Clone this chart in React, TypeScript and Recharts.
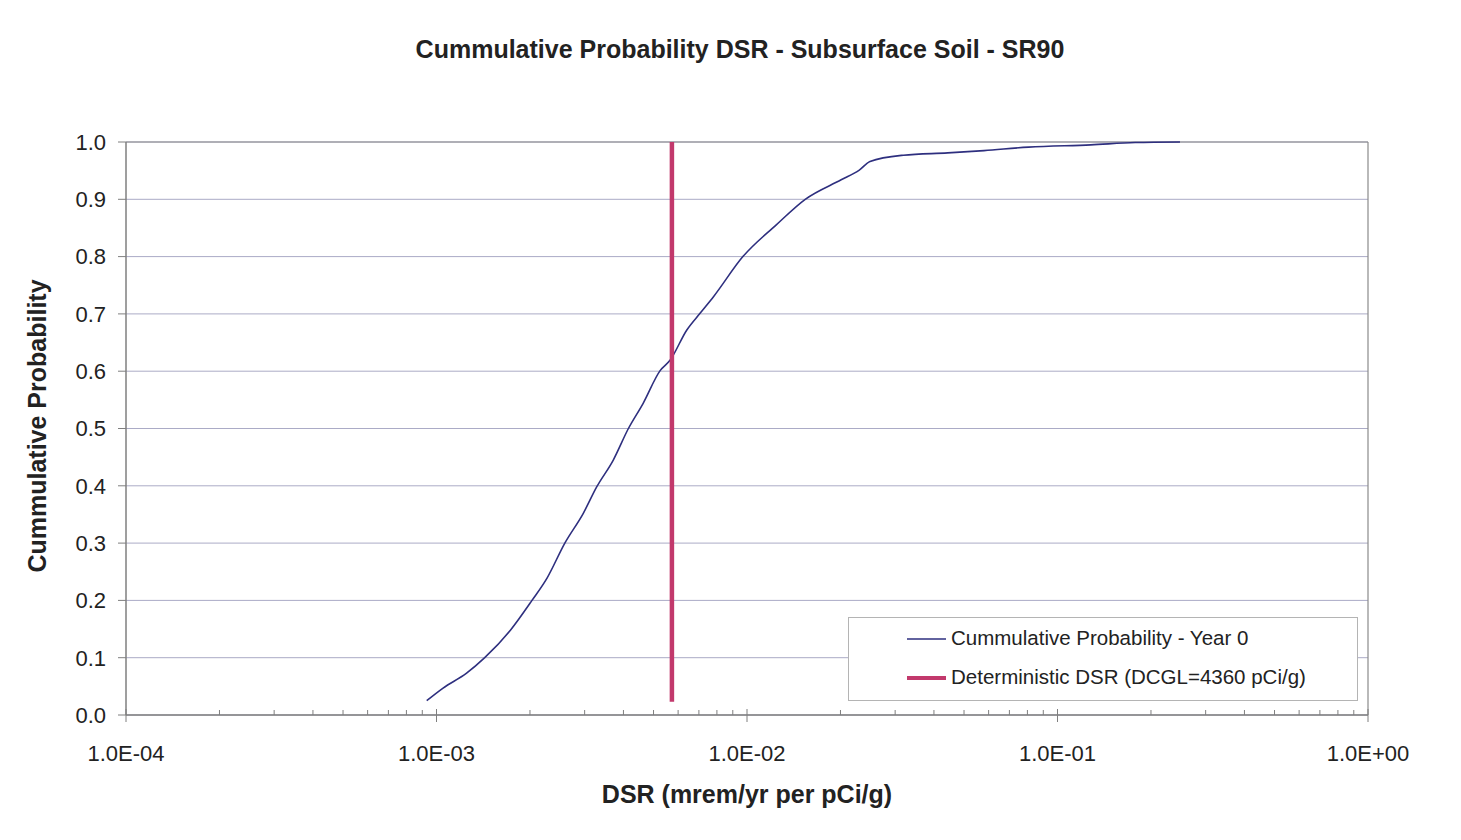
import React from 'react';
import { ComposedChart, Line, XAxis, YAxis, CartesianGrid, ReferenceLine } from 'recharts';

// Cumulative probability curve (Year 0)
const dsrValues = [
  9.3e-4, 1.05e-3, 1.25e-3, 1.43e-3, 1.73e-3, 2.03e-3, 2.27e-3, 2.59e-3, 2.97e-3, 3.28e-3,
  3.71e-3, 4.15e-3, 4.63e-3, 5.25e-3, 5.65e-3, 6.4e-3, 7.06e-3, 7.8e-3, 9.7e-3, 1.24e-2,
  1.54e-2, 2.01e-2, 2.3e-2, 2.49e-2, 3.19e-2, 4.43e-2, 5.8e-2, 8.07e-2, 0.128, 0.178, 0.248,
];
const probValues = [
  0.025, 0.047, 0.073, 0.1, 0.148, 0.2, 0.239, 0.3, 0.352, 0.398,
  0.445, 0.5, 0.544, 0.601, 0.619, 0.672, 0.701, 0.73, 0.8, 0.855,
  0.9, 0.934, 0.951, 0.966, 0.977, 0.981, 0.985, 0.991, 0.995, 0.999, 1.0,
];

// Deterministic DSR (DCGL = 4360 pCi/g)
const deterministicDsr = [5.73e-3, 5.73e-3];
const deterministicProb = [0.023, 1.0];

const decadeTicks = [1e-4, 1e-3, 1e-2, 1e-1, 1];
const decadeLabels = ['1.0E-04', '1.0E-03', '1.0E-02', '1.0E-01', '1.0E+00'];
const minorMultipliers = [2, 3, 4, 5, 6, 7, 8, 9];
const yTicks = [0, 0.1, 0.2, 0.3, 0.4, 0.5, 0.6, 0.7, 0.8, 0.9, 1.0];

const curveData = dsrValues.map((x, i) => ({ x, p: probValues[i] }));
const deterministicData = deterministicDsr.map((x, i) => ({ x, p: deterministicProb[i] }));
const minorTicks: number[] = [];
decadeTicks.slice(0, 4).forEach((d) => minorMultipliers.forEach((m) => minorTicks.push(d * m)));
const allXTicks = [...decadeTicks, ...minorTicks].sort((a, b) => a - b);

const FONT = '"Liberation Sans", Arial, sans-serif';
const BLUE = '#2e2f7f';
const RED = '#c2396c';
const AXIS = '#7f7f7f';

const XTick = (props: any) => {
  const { x, y, payload } = props;
  const v = payload.value;
  const idx = decadeTicks.findIndex((d) => Math.abs(d - v) / d < 1e-9);
  const major = idx >= 0;
  return (
    <g>
      <line x1={x} x2={x} y1={major ? y - 6 : y - 5} y2={major ? y + 7 : y} stroke={AXIS} strokeWidth={1} />
      {major && (
        <text x={x} y={y + 46} textAnchor="middle" fontSize={22} fill="#222" fontFamily={FONT}>
          {decadeLabels[idx]}
        </text>
      )}
    </g>
  );
};

const LegendBox = () => (
  <svg width={511} height={85} style={{ display: 'block' }}>
    <rect x={0.5} y={0.5} width={509} height={83} fill="#fff" stroke="#b4b4b4" strokeWidth={1} />
    <line x1={59} x2={98} y1={22} y2={22} stroke={BLUE} strokeWidth={1.6} />
    <text x={103} y={28} fontSize={20.5} fill="#222" fontFamily={FONT}>Cummulative Probability - Year 0</text>
    <line x1={59} x2={98} y1={61} y2={61} stroke={RED} strokeWidth={4} />
    <text x={103} y={67} fontSize={20.5} fill="#222" fontFamily={FONT}>Deterministic DSR (DCGL=4360 pCi/g)</text>
  </svg>
);

export default function App() {
  const W = 1453;
  const H = 820;
  return (
    <div style={{ position: 'relative', width: W, height: H, fontFamily: FONT }}>
      <div style={{ position: 'absolute', left: -1, top: -1, width: 1, height: H + 1, background: '#b8b8b8' }} />
      <div style={{ position: 'absolute', left: -1, top: -1, width: W + 1, height: 1, background: '#b8b8b8' }} />
      <ComposedChart
        width={W}
        height={H}
        margin={{ top: 134, right: 93, left: 18, bottom: 53 }}
        style={{ position: 'absolute', left: 0, top: 0 }}
      >
        <CartesianGrid vertical={false} stroke="#ababc6" strokeWidth={1} />
        <XAxis
          dataKey="x"
          type="number"
          scale="log"
          domain={[1e-4, 1]}
          allowDataOverflow
          ticks={allXTicks}
          interval={0}
          tick={<XTick />}
          tickLine={false}
          tickSize={0}
          tickMargin={0}
          height={60}
          axisLine={{ stroke: AXIS, strokeWidth: 1.5 }}
        />
        <YAxis
          type="number"
          domain={[0, 1]}
          ticks={yTicks}
          interval={0}
          width={100}
          tickFormatter={(v: number) => v.toFixed(1)}
          tick={{ fontSize: 22, fill: '#222', fontFamily: FONT }}
          tickSize={8}
          tickMargin={12}
          tickLine={{ stroke: AXIS }}
          axisLine={{ stroke: AXIS, strokeWidth: 1.5 }}
        />
        <ReferenceLine y={1} stroke="#8a8a8a" strokeWidth={1.2} />
        <ReferenceLine x={1} stroke="#8a8a8a" strokeWidth={1.2} />
        <Line
          data={curveData}
          dataKey="p"
          type="monotone"
          stroke={BLUE}
          strokeWidth={1.6}
          dot={false}
          activeDot={false}
          isAnimationActive={false}
        />
        <Line
          data={deterministicData}
          dataKey="p"
          type="linear"
          stroke={RED}
          strokeWidth={4.5}
          dot={false}
          activeDot={false}
          isAnimationActive={false}
        />
      </ComposedChart>
      <div style={{ position: 'absolute', left: 840, top: 609, width: 511, height: 85 }}>
        <LegendBox />
      </div>
      <svg width={W} height={H} style={{ position: 'absolute', left: 0, top: 0, pointerEvents: 'none' }}>
        <text x={732} y={50} textAnchor="middle" fontSize={25} fontWeight="bold" fill="#222" fontFamily={FONT}>
          Cummulative Probability DSR - Subsurface Soil - SR90
        </text>
        <text x={739} y={795} textAnchor="middle" fontSize={25} fontWeight="bold" fill="#222" fontFamily={FONT}>
          DSR (mrem/yr per pCi/g)
        </text>
        <text
          x={38}
          y={418}
          textAnchor="middle"
          fontSize={25}
          fontWeight="bold"
          fill="#222"
          fontFamily={FONT}
          transform="rotate(-90, 38, 418)"
        >
          Cummulative Probability
        </text>
      </svg>
    </div>
  );
}
